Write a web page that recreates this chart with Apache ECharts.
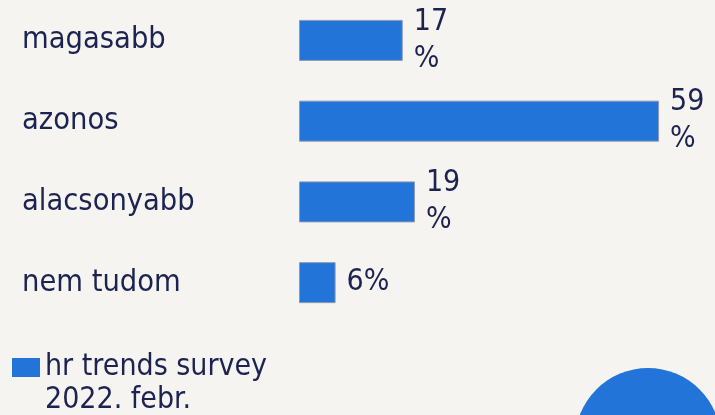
<!DOCTYPE html>
<html>
<head>
<meta charset="utf-8">
<script src="https://cdn.jsdelivr.net/npm/echarts@6/dist/echarts.min.js"></script>
<style>
  html, body { margin: 0; padding: 0; background: #f5f4f0; }
  #chart { width: 715px; height: 415px; }
</style>
</head>
<body>
<div id="chart"></div>
<script>
const categories = ['magasabb', 'azonos', 'alacsonyabb', 'nem tudom'];
const values = [17, 59, 19, 6];
const seriesName = 'hr trends survey 2022. febr.';

const font = '"DejaVu Sans Condensed", "DejaVu Sans", sans-serif';
const ink = '#1c2350';
const blue = '#2274d8';

const chart = echarts.init(document.getElementById('chart'));
chart.setOption({
  backgroundColor: '#f5f4f0',
  animation: false,
  textStyle: { fontFamily: font },
  grid: { left: 299, top: -2, width: 415, height: 325, containLabel: false },
  legend: {
    left: 7,
    top: 313,
    itemWidth: 28,
    itemHeight: 19,
    icon: 'rect',
    data: [seriesName],
    itemStyle: { borderWidth: 0 },
    // empty first line pushes the text below the square, like the slide
    formatter: name => '\n' + name,
    textStyle: {
      fontFamily: font,
      fontSize: 30,
      color: ink,
      width: 245,
      overflow: 'break',
      lineHeight: 33
    }
  },
  xAxis: {
    type: 'value',
    min: 0,
    max: 68,
    show: false
  },
  yAxis: {
    type: 'category',
    inverse: true,
    data: categories,
    axisLine: { show: false },
    axisTick: { show: false },
    splitLine: { show: false },
    axisLabel: {
      align: 'left',
      margin: 277,
      fontFamily: font,
      fontSize: 30.5,
      color: ink
    }
  },
  series: [{
    name: seriesName,
    type: 'bar',
    data: values,
    barWidth: 41,
    itemStyle: { color: blue, borderColor: '#8e9ab0', borderWidth: 1 },
    label: {
      show: true,
      position: 'right',
      distance: 11,
      formatter: '{c}%',
      fontFamily: font,
      fontSize: 30,
      color: ink,
      width: 46,
      overflow: 'breakAll',
      lineHeight: 37
    }
  }],
  graphic: [{
    type: 'circle',
    shape: { cx: 648, cy: 441, r: 73 },
    style: { fill: blue },
    silent: true
  }]
});
</script>
</body>
</html>
